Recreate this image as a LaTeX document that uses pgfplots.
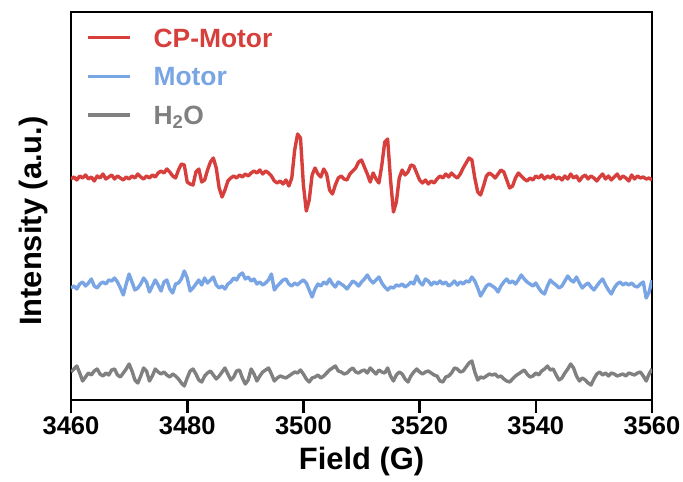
\documentclass[border=0pt]{standalone}
\usepackage{fontspec}
\setmainfont{Liberation Sans}
\usepackage{pgfplots}
\usepackage{pgfplotstable}
\pgfplotsset{compat=1.18}
\definecolor{cpred}{RGB}{214,63,60}
\definecolor{mblue}{RGB}{122,165,228}
\definecolor{hgray}{RGB}{128,128,128}

\pgfplotstableread{
x r b g
3460.0 221 112 28
3460.5 223 114 31
3461.0 220 111 34
3461.5 224 116 27
3462.0 222 118 19
3462.5 225 114 23
3463.0 221 117 27
3463.5 223 121 25
3464.0 219 114 29
3464.5 224 112 31
3465.0 222 116 26
3465.5 226 118 24
3466.0 221 116 27
3466.5 223 120 25
3467.0 225 119 30
3467.5 221 122 31
3468.0 224 118 25
3468.5 222 112 23
3469.0 220 105 27
3469.5 223 116 31
3470.0 221 126 36
3470.5 224 118 29
3471.0 222 110 20
3471.5 226 112 17
3472.0 223 116 24
3472.5 221 122 32
3473.0 224 118 29
3473.5 222 108 19
3474.0 225 114 24
3474.5 223 120 31
3475.0 227 115 28
3475.5 229 109 26
3476.0 227 118 28
3476.5 231 120 25
3477.0 228 111 23
3477.5 224 107 26
3478.0 222 116 24
3478.5 230 117 21
3479.0 236 121 17
3479.5 235 129 14
3480.0 218 122 22
3480.5 216 109 29
3481.0 215 112 31
3481.5 228 116 26
3482.0 231 120 20
3482.5 218 115 18
3483.0 220 122 24
3483.5 230 117 27
3484.0 238 120 29
3484.5 242 123 25
3485.0 232 115 21
3485.5 212 112 24
3486.0 203 114 28
3486.5 210 111 32
3487.0 219 116 26
3487.5 222 118 20
3488.0 224 122 23
3488.5 222 120 29
3489.0 225 125 30
3489.5 223 127 22
3490.0 226 121 16
3490.5 224 123 20
3491.0 227 119 31
3491.5 229 121 26
3492.0 227 116 19
3492.5 230 118 24
3493.0 226 115 28
3493.5 229 117 30
3494.0 227 120 32
3494.5 224 126 26
3495.0 219 110 19
3495.5 217 114 22
3496.0 219 117 24
3496.5 216 120 23
3497.0 220 121 22
3497.5 214 116 24
3498.0 222 114 26
3498.5 250 117 28
3499.0 266 115 27
3499.5 262 118 30
3500.0 215 120 26
3500.5 189 117 21
3501.0 200 110 18
3501.5 225 103 22
3502.0 232 111 23
3502.5 226 116 25
3503.0 223 114 22
3503.5 231 118 24
3504.0 226 116 27
3504.5 210 121 30
3505.0 206 116 32
3505.5 215 113 34
3506.0 222 118 29
3506.5 224 116 28
3507.0 221 114 26
3507.5 220 111 27
3508.0 226 115 30
3508.5 229 119 32
3509.0 232 117 28
3509.5 238 114 27
3510.0 240 118 29
3510.5 233 121 30
3511.0 226 125 27
3511.5 218 120 32
3512.0 227 117 29
3512.5 221 120 26
3513.0 217 123 30
3513.5 235 117 28
3514.0 258 113 27
3514.5 261 110 32
3515.0 220 113 24
3515.5 188 112 19
3516.0 198 115 25
3516.5 222 114 28
3517.0 230 116 26
3517.5 225 113 21
3518.0 228 115 18
3518.5 235 118 24
3519.0 234 116 28
3519.5 227 124 31
3520.0 220 118 28
3520.5 217 115 26
3521.0 220 121 28
3521.5 216 119 29
3522.0 219 115 27
3522.5 217 118 25
3523.0 221 116 24
3523.5 224 119 19
3524.0 222 116 18
3524.5 226 118 23
3525.0 223 114 24
3525.5 227 116 27
3526.0 224 119 32
3526.5 222 115 31
3527.0 226 118 28
3527.5 232 116 29
3528.0 237 119 33
3528.5 242 118 37
3529.0 240 123 39
3529.5 222 119 28
3530.0 208 112 20
3530.5 205 104 23
3531.0 214 109 22
3531.5 224 114 24
3532.0 227 116 26
3532.5 225 114 25
3533.0 222 112 26
3533.5 226 108 23
3534.0 230 114 24
3534.5 228 118 21
3535.0 220 121 19
3535.5 212 117 18
3536.0 214 119 21
3536.5 222 116 24
3537.0 227 120 26
3537.5 224 125 28
3538.0 221 121 30
3538.5 219 118 26
3539.0 222 116 23
3539.5 220 114 24
3540.0 224 117 27
3540.5 222 112 25
3541.0 225 108 29
3541.5 221 106 31
3542.0 224 114 34
3542.5 222 120 30
3543.0 225 117 31
3543.5 221 115 25
3544.0 223 112 20
3544.5 220 114 22
3545.0 224 119 27
3545.5 221 124 31
3546.0 226 120 36
3546.5 222 118 32
3547.0 224 123 24
3547.5 219 117 19
3548.0 223 112 22
3548.5 225 115 20
3549.0 221 117 17
3549.5 224 113 15
3550.0 222 110 21
3550.5 219 114 26
3551.0 223 118 28
3551.5 226 121 25
3552.0 221 115 27
3552.5 224 110 24
3553.0 220 106 27
3553.5 223 112 26
3554.0 226 116 24
3554.5 221 118 25
3555.0 224 115 26
3555.5 222 117 24
3556.0 219 115 27
3556.5 225 117 26
3557.0 221 114 25
3557.5 224 113 27
3558.0 222 116 28
3558.5 223 118 24
3559.0 221 102 19
3559.5 222 108 26
3560.0 220 120 31
}\epr

\begin{document}
\begin{tikzpicture}
\useasboundingbox (-71bp,-82bp) rectangle (612bp,400bp);
\begin{axis}[
  scale only axis, width=581bp, height=388bp,
  xmin=3460, xmax=3560, ymin=0, ymax=388,
  xtick={3460,3480,3500,3520,3540,3560}, ytick=\empty,
  xtick pos=bottom, tick align=outside, major tick length=13bp,
  major tick style={black, line width=2.6bp},
  axis line style={black, line width=2.8bp},
  ticklabel style={font=\fontsize{25.6}{26}\selectfont\bfseries},
  /pgf/number format/assume math mode=true,
  /pgf/number format/1000 sep={},
  xlabel={Field (G)}, ylabel={Intensity (a.u.)},
  label style={font=\fontsize{31}{31}\selectfont\bfseries},
  xlabel style={at={(axis description cs:0.5,-0.1804)}, anchor=base},
  ylabel style={at={(axis description cs:-0.0516,0.461)}, anchor=base},
  legend image code/.code={\draw[#1, line width=3.4bp] (0bp,0bp) -- (41.5bp,0bp); \path (63.5bp,0bp);},
  legend cell align=left,
  legend style={draw=none, fill=none, inner sep=0pt, outer sep=0pt,
    at={(axis description cs:0.027,0.958)}, anchor=north west,
    row sep=19.6bp, font=\fontsize{26.5}{26.5}\selectfont\bfseries,
    nodes={inner sep=0pt, text height=19bp, text depth=0bp}},
  every axis plot/.append style={line width=3.4bp, line join=round},
]
\addplot[cpred] table[x=x, y=r] {\epr};
\addlegendentry{\textcolor{cpred}{CP-Motor}}
\addplot[mblue] table[x=x, y=b] {\epr};
\addlegendentry{\textcolor{mblue}{Motor}}
\addplot[hgray] table[x=x, y=g] {\epr};
\addlegendentry{\textcolor{hgray}{H\textsubscript{2}O}}
\end{axis}
\end{tikzpicture}
\end{document}
